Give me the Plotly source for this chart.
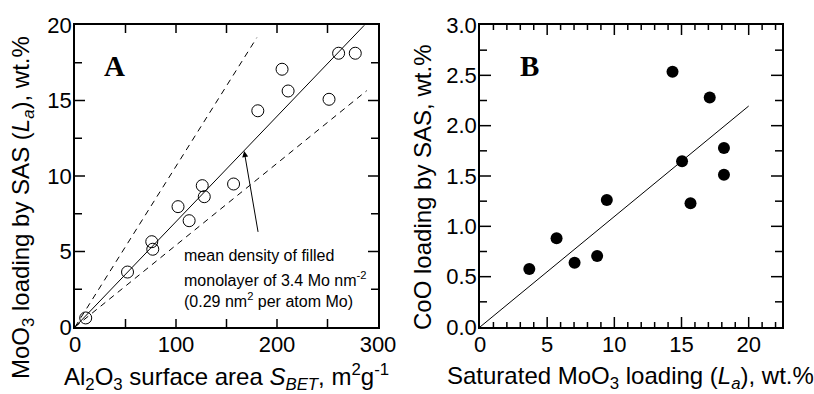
import plotly.graph_objects as go

W, H = 814, 394

# Panel A data: Al2O3 surface area vs MoO3 loading
sbet = [10.6, 52, 76, 77, 102, 113, 126, 128, 157, 181, 205, 211, 251.5, 261, 277.5]
moo3 = [0.6, 3.64, 5.65, 5.15, 7.97, 7.04, 9.36, 8.63, 9.47, 14.32, 17.07, 15.63, 15.08, 18.13, 18.13]
# Reference lines in panel A (x end points and y at end)
solid_x = [0, 286.4]
solid_y = [0, 19.98]
upper_x = [0, 180]
upper_y = [0, 19.16]
lower_x = [0, 288.8]
lower_y = [0, 15.65]

# Panel B data: saturated MoO3 loading vs CoO loading
la = [3.67, 5.70, 7.04, 8.72, 9.44, 14.33, 15.04, 15.67, 17.1, 18.16, 18.16]
coo = [0.576, 0.881, 0.639, 0.705, 1.262, 2.536, 1.646, 1.229, 2.28, 1.778, 1.513]
lineB_x = [0, 20]
lineB_y = [0, 2.195]

# Tick values
A_x_major = [0, 100, 200, 300]
A_x_minor = [50, 150, 250]
A_y_major = [0, 5, 10, 15, 20]
A_y_minor = [2.5, 7.5, 12.5, 17.5]
B_x_major = [0, 5, 10, 15, 20]
B_x_minor = [1, 2, 3, 4, 6, 7, 8, 9, 11, 12, 13, 14, 16, 17, 18, 19, 21, 22]
B_y_major = [0, 0.5, 1.0, 1.5, 2.0, 2.5, 3.0]
B_y_labels = ["0.0", "0.5", "1.0", "1.5", "2.0", "2.5", "3.0"]
B_y_minor = [0.25, 0.75, 1.25, 1.75, 2.25, 2.75]

A_xrange = [0, 300]
A_yrange = [0, 20]
B_xrange = [0, 22.48]
B_yrange = [0, 3]

FONT = "Arial, Liberation Sans, sans-serif"
SERIF = "Times New Roman, Liberation Serif, serif"

fig = go.Figure()
fig.add_trace(go.Scatter(x=upper_x, y=upper_y, mode="lines", line=dict(color="black", width=1, dash="6px,5px"), xaxis="x", yaxis="y"))
fig.add_trace(go.Scatter(x=lower_x, y=lower_y, mode="lines", line=dict(color="black", width=1, dash="6px,5px"), xaxis="x", yaxis="y"))
fig.add_trace(go.Scatter(x=solid_x, y=solid_y, mode="lines", line=dict(color="black", width=1), xaxis="x", yaxis="y"))
fig.add_trace(go.Scatter(x=sbet, y=moo3, mode="markers",
                         marker=dict(symbol="circle-open", size=12, color="black", line=dict(width=1, color="black")),
                         xaxis="x", yaxis="y"))
fig.add_trace(go.Scatter(x=lineB_x, y=lineB_y, mode="lines", line=dict(color="black", width=1), xaxis="x2", yaxis="y2"))
fig.add_trace(go.Scatter(x=la, y=coo, mode="markers",
                         marker=dict(symbol="circle", size=12, color="black"),
                         xaxis="x2", yaxis="y2"))

def px2fx(p):
    return p / W

def px2fy(p):
    return 1 - p / H

def axis(domain, rng, tickvals, anchor, ticktext=None):
    d = dict(domain=domain, range=rng, tickmode="array", tickvals=tickvals, anchor=anchor,
             ticks="", showline=True, mirror=True, linecolor="black", linewidth=1.5,
             showgrid=False, zeroline=False, automargin=False, ticklabelstandoff=-3,
             tickfont=dict(size=22, family=FONT, color="black"))
    if ticktext:
        d["ticktext"] = ticktext
    return d

fig.update_layout(
    width=W, height=H, margin=dict(l=0, r=0, t=0, b=0, autoexpand=False),
    paper_bgcolor="white", plot_bgcolor="white", showlegend=False,
    font=dict(family=FONT, color="black"),
    xaxis=axis([px2fx(75), px2fx(378)], A_xrange, A_x_major, "y"),
    yaxis=axis([px2fy(327), px2fy(25)], A_yrange, A_y_major, "x"),
    xaxis2=axis([px2fx(480), px2fx(782)], B_xrange, B_x_major, "y2"),
    yaxis2=axis([px2fy(327), px2fy(25)], B_yrange, B_y_major, "x2", B_y_labels),
)

# Inward tick marks on all four sides, placed in data coordinates with pixel lengths
shapes = []
TICK = dict(color="black", width=1.5)

def xticks(vals, length, xref, yref, yrng):
    for v in vals:
        shapes.append(dict(type="line", xref=xref, yref=yref, x0=v, x1=v, ysizemode="pixel",
                           yanchor=yrng[0], y0=0, y1=length, line=TICK, layer="above"))
        shapes.append(dict(type="line", xref=xref, yref=yref, x0=v, x1=v, ysizemode="pixel",
                           yanchor=yrng[1], y0=0, y1=-length, line=TICK, layer="above"))

def yticks(vals, length, xref, yref, xrng):
    for v in vals:
        shapes.append(dict(type="line", xref=xref, yref=yref, y0=v, y1=v, xsizemode="pixel",
                           xanchor=xrng[0], x0=0, x1=length, line=TICK, layer="above"))
        shapes.append(dict(type="line", xref=xref, yref=yref, y0=v, y1=v, xsizemode="pixel",
                           xanchor=xrng[1], x0=0, x1=-length, line=TICK, layer="above"))

xticks(A_x_major[1:-1], 8, "x", "y", A_yrange)
xticks(A_x_minor, 8, "x", "y", A_yrange)
yticks(A_y_major[1:-1], 10, "x", "y", A_xrange)
yticks(A_y_minor, 7, "x", "y", A_xrange)
xticks(B_x_major[1:], 10, "x2", "y2", B_yrange)
xticks(B_x_minor, 5, "x2", "y2", B_yrange)
yticks(B_y_major[1:-1], 11, "x2", "y2", B_xrange)
yticks(B_y_minor, 7, "x2", "y2", B_xrange)
fig.update_layout(shapes=shapes)

ann = []
# Axis titles
ann.append(dict(text="Al<sub>2</sub>O<sub>3</sub> surface area <i>S<sub>BET</sub></i>, m<sup>2</sup>g<sup>-1</sup>",
                xref="paper", yref="paper", x=px2fx(226), y=px2fy(377), xanchor="center", yanchor="middle",
                showarrow=False, font=dict(size=24, family=FONT)))
ann.append(dict(text="Saturated MoO<sub>3</sub> loading (<i>L<sub>a</sub></i>), wt.%",
                xref="paper", yref="paper", x=px2fx(630), y=px2fy(377), xanchor="center", yanchor="middle",
                showarrow=False, font=dict(size=24, family=FONT)))
ann.append(dict(text="MoO<sub>3</sub> loading by SAS (<i>L<sub>a</sub></i>), wt.%", textangle=-90,
                xref="paper", yref="paper", x=px2fx(22), y=px2fy(208), xanchor="center", yanchor="middle",
                showarrow=False, font=dict(size=24, family=FONT)))
ann.append(dict(text="CoO loading by SAS, wt.%", textangle=-90,
                xref="paper", yref="paper", x=px2fx(422), y=px2fy(188), xanchor="center", yanchor="middle",
                showarrow=False, font=dict(size=24, family=FONT)))
# Panel letters
ann.append(dict(text="<b>A</b>", xref="paper", yref="paper", x=px2fx(114), y=px2fy(66),
                xanchor="center", yanchor="middle", showarrow=False, font=dict(size=29, family=SERIF)))
ann.append(dict(text="<b>B</b>", xref="paper", yref="paper", x=px2fx(529), y=px2fy(66),
                xanchor="center", yanchor="middle", showarrow=False, font=dict(size=29, family=SERIF)))
# Arrow
ann.append(dict(text="", x=167.5, y=11.65, xref="x", yref="y", ax=181.5, ay=6.2, axref="x", ayref="y",
                showarrow=True, arrowhead=2, arrowsize=1.2, arrowwidth=1, arrowcolor="black"))
# Annotation text lines
for txt, yp in [("mean density of filled", 256), ("monolayer of 3.4 Mo nm<sup>-2</sup>", 279),
                ("(0.29 nm<sup>2</sup> per atom Mo)", 300)]:
    ann.append(dict(text=txt, xref="paper", yref="paper", x=px2fx(182), y=px2fy(yp), xanchor="left",
                    yanchor="middle", showarrow=False, font=dict(size=16, family=FONT)))
fig.update_layout(annotations=ann)

fig.write_html("out.html", config={"displayModeBar": False},
               post_script="document.body.style.margin='0px';document.body.style.overflow='hidden';")
